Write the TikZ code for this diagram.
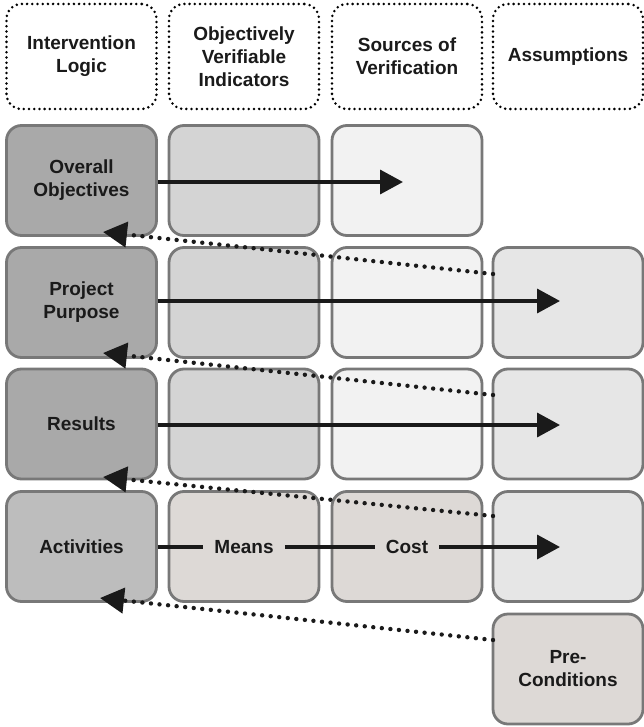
\documentclass[tikz,border=0pt]{standalone}
\usepackage{fontspec}
\setmainfont{Liberation Sans}
\usetikzlibrary{arrows.meta}
\definecolor{bord}{HTML}{787878}
\definecolor{txt}{HTML}{1A1A1A}
\definecolor{cA}{HTML}{A9A9A9}
\definecolor{cAct}{HTML}{BDBDBD}
\definecolor{cB}{HTML}{D4D4D4}
\definecolor{cC}{HTML}{F2F2F2}
\definecolor{cD}{HTML}{E6E6E6}
\definecolor{cW}{HTML}{DDD9D6}
\begin{document}
\begin{tikzpicture}[x=1pt,y=-1pt,
  cell/.style={draw=bord, line width=2.8pt, rounded corners=15pt, minimum width=150pt,
    minimum height=110pt, inner sep=0pt, align=center,
    font=\bfseries\fontsize{19}{23}\selectfont, text=txt},
  head/.style={cell, draw=black, fill=white, line width=2.8pt, dash pattern=on 0pt off 5.2pt, line cap=round, minimum height=105pt},
  lbl/.style={inner xsep=11pt, inner ysep=0pt, font=\bfseries\fontsize{19}{23}\selectfont, text=txt},
  sarr/.style={line width=3.6pt, draw=txt, -{Triangle[length=23pt,width=24pt]}},
  sline/.style={line width=3.6pt, draw=txt},
  darr/.style={line width=4.4pt, draw=txt, dash pattern=on 0pt off 8.6pt, line cap=round, -{Triangle[length=24pt,width=25pt,line cap=butt]}}
]
\useasboundingbox (0,0) rectangle (643,727);
% headers
\node[head] (h1) at (81.5,56.5) {Intervention\\Logic};
\node[head] (h2) at (244,56.5) {Objectively\\Verifiable\\Indicators};
\node[head] (h3) at (407,56.5) {Sources of\\Verification};
\node[head] (h4) at (568,56.5) {Assumptions};
% row 1
\node[cell, fill=cA] (o1) at (81.5,180.5) {Overall\\Objectives};
\node[cell, fill=cB] (o2) at (244,180.5) {};
\node[cell, fill=cC] (o3) at (407,180.5) {};
% row 2
\node[cell, fill=cA] (p1) at (81.5,302.5) {Project\\Purpose};
\node[cell, fill=cB] (p2) at (244,302.5) {};
\node[cell, fill=cC] (p3) at (407,302.5) {};
\node[cell, fill=cD] (p4) at (568,302.5) {};
% row 3
\node[cell, fill=cA] (r1) at (81.5,424) {Results};
\node[cell, fill=cB] (r2) at (244,424) {};
\node[cell, fill=cC] (r3) at (407,424) {};
\node[cell, fill=cD] (r4) at (568,424) {};
% row 4
\node[cell, fill=cAct] (a1) at (81.5,546.5) {Activities};
\node[cell, fill=cW] (a2) at (244,546.5) {};
\node[cell, fill=cW] (a3) at (407,546.5) {};
\node[cell, fill=cD] (a4) at (568,546.5) {};
% pre-conditions
\node[cell, fill=cW] (pc) at (568,669) {Pre-\\Conditions};
% labels in row 4
\node[lbl] (means) at (244,547) {Means};
\node[lbl] (cost) at (407,547) {Cost};
% arrow end coordinates
\coordinate (e1) at (403,182);
\coordinate (e2) at (560,301);
\coordinate (e3) at (560,425);
\coordinate (e4) at (560,547);
\coordinate (t1) at (103,232);
\coordinate (t2) at (103,353);
\coordinate (t3) at (103,477);
\coordinate (t4) at (100,598);
\coordinate (s1) at (493,274);
\coordinate (s2) at (493,395);
\coordinate (s3) at (493,516);
\coordinate (s4) at (493,640);
% solid arrows
\draw[sarr] (o1.east |- e1) -- (e1);
\draw[sarr] (p1.east |- e2) -- (e2);
\draw[sarr] (r1.east |- e3) -- (e3);
\draw[sline] (a1.east |- means) -- (means.west);
\draw[sline] (means.east) -- (cost.west);
\draw[sarr] (cost.east) -- (e4);
% dotted arrows
\draw[darr] (s1) -- (t1);
\draw[darr] (s2) -- (t2);
\draw[darr] (s3) -- (t3);
\draw[darr] (s4) -- (t4);
\end{tikzpicture}
\end{document}
